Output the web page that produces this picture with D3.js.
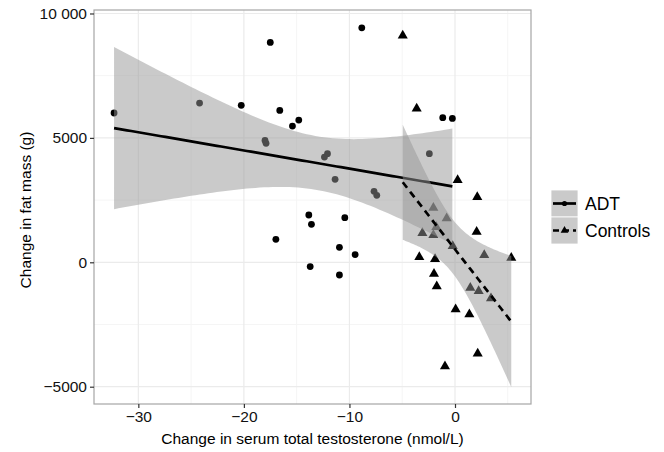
<!DOCTYPE html>
<html>
<head>
<meta charset="utf-8">
<script src="https://cdnjs.cloudflare.com/ajax/libs/d3/7.8.5/d3.min.js"></script>
<style>
  body { margin: 0; background: #fff; }
  text { font-family: "Liberation Sans", Arial, sans-serif; }
</style>
</head>
<body>
<div class="chart"></div>
<script>
// Data: change in testosterone (x) vs change in fat mass (y)
var adtX = [-32.3, -24.2, -20.25, -17.5, -8.83, -16.6, -14.8, -15.4, -18.0, -17.9, -12.37, -12.08, -11.36,
            -7.67, -7.41, -13.85, -13.6, -10.44, -16.97, -10.95, -9.46, -13.72, -10.95, -1.16, -0.25, -2.43];
var adtY = [6000, 6400, 6310, 8835, 9424, 6104, 5715, 5474, 4900, 4780, 4229, 4365, 3333,
            2851, 2690, 1900, 1526, 1795, 924, 602, 309, -173, -510, 5811, 5783, 4365];

var ctlX = [-4.95, -3.63, 0.25, 2.11, -2.05, -0.79, -3.09, -2.05, -1.77, 2.05, -3.38, -1.89,
            2.77, 5.33, -0.22, -1.99, -1.73, 1.45, 2.24, 3.41, 0.06, 1.36, 2.15, -0.95];
var ctlY = [9145, 6213, 3333, 2651, 2222, 1795, 1205, 1124, 1446, 1257, 241, 161,
            321, 213, 680, -430, -937, -990, -1124, -1419, -1861, -2062, -3641, -4150];

var groups = ["ADT", "Controls"];
var xTicks = [-30, -20, -10, 0];
var xMinor = [-25, -15, -5, 5];
var yTicks = [-5000, 0, 5000, 10000];
var yMinor = [-2500, 2500, 7500];

// Set up the chart
var svgWidth = 664;
var svgHeight = 452;
var panel = { left: 94, top: 10, right: 531, bottom: 404 };

var svg = d3.select(".chart")
    .append("svg")
    .attr("width", svgWidth)
    .attr("height", svgHeight);

var x = d3.scaleLinear().domain([-34.2, 7.2]).range([panel.left, panel.right]);
var y = d3.scaleLinear().domain([-5695, 10140]).range([panel.bottom, panel.top]);

// linear fit with 95% confidence band, like geom_smooth(method = "lm")
function fitLm(xs, ys, t) {
  var n = xs.length;
  var mx = d3.mean(xs), my = d3.mean(ys);
  var sxx = d3.sum(xs, d => (d - mx) * (d - mx));
  var sxy = d3.sum(xs, (d, i) => (d - mx) * (ys[i] - my));
  var b = sxy / sxx, a = my - b * mx;
  var rss = d3.sum(xs, (d, i) => Math.pow(ys[i] - (a + b * d), 2));
  var s = Math.sqrt(rss / (n - 2));
  var lo = d3.min(xs), hi = d3.max(xs);
  return d3.range(80).map(function(i) {
    var xv = lo + (hi - lo) * i / 79;
    var fit = a + b * xv;
    var se = s * Math.sqrt(1 / n + (xv - mx) * (xv - mx) / sxx);
    return { x: xv, fit: fit, lo: fit - t * se, hi: fit + t * se };
  });
}

var adtFit = fitLm(adtX, adtY, 2.064);
var ctlFit = fitLm(ctlX, ctlY, 2.074);

// grid
var grid = svg.append("g");
grid.selectAll(".xminor").data(xMinor).enter().append("line")
  .attr("x1", d => x(d)).attr("x2", d => x(d))
  .attr("y1", panel.top).attr("y2", panel.bottom)
  .attr("stroke", "#f5f5f5").attr("stroke-width", 1);
grid.selectAll(".yminor").data(yMinor).enter().append("line")
  .attr("y1", d => y(d)).attr("y2", d => y(d))
  .attr("x1", panel.left).attr("x2", panel.right)
  .attr("stroke", "#f5f5f5").attr("stroke-width", 1);
grid.selectAll(".xmajor").data(xTicks).enter().append("line")
  .attr("x1", d => x(d)).attr("x2", d => x(d))
  .attr("y1", panel.top).attr("y2", panel.bottom)
  .attr("stroke", "#ebebeb").attr("stroke-width", 1.2);
grid.selectAll(".ymajor").data(yTicks).enter().append("line")
  .attr("y1", d => y(d)).attr("y2", d => y(d))
  .attr("x1", panel.left).attr("x2", panel.right)
  .attr("stroke", "#ebebeb").attr("stroke-width", 1.2);

// points first, the smooth layers sit on top of them
var triangle = d3.symbol().type(d3.symbolTriangle).size(44);

svg.append("g").selectAll("circle")
  .data(adtX.map((d, i) => [d, adtY[i]]))
  .enter().append("circle")
  .attr("cx", d => x(d[0]))
  .attr("cy", d => y(d[1]))
  .attr("r", 3.4)
  .attr("fill", "#000");

svg.append("g").selectAll("path")
  .data(ctlX.map((d, i) => [d, ctlY[i]]))
  .enter().append("path")
  .attr("d", triangle)
  .attr("transform", d => `translate(${x(d[0])},${y(d[1]) + 0.8})`)
  .attr("fill", "#000");

var band = d3.area().x(d => x(d.x)).y0(d => y(d.lo)).y1(d => y(d.hi));
var line = d3.line().x(d => x(d.x)).y(d => y(d.fit));

[[adtFit, null], [ctlFit, "7,5"]].forEach(function(g) {
  svg.append("path").attr("d", band(g[0]))
    .attr("fill", "#969696").attr("fill-opacity", 0.5);
  svg.append("path").attr("d", line(g[0]))
    .attr("fill", "none").attr("stroke", "#000").attr("stroke-width", 2.7)
    .attr("stroke-dasharray", g[1]);
});

// panel border
svg.append("rect")
  .attr("x", panel.left).attr("y", panel.top)
  .attr("width", panel.right - panel.left).attr("height", panel.bottom - panel.top)
  .attr("fill", "none").attr("stroke", "#a6a6a6").attr("stroke-width", 1.2);

// axes
var fmt = d => (d >= 10000 ? "10 000" : (d < 0 ? "\u2212" : "") + Math.abs(d));

var bottomAxis = d3.axisBottom(x).tickValues(xTicks).tickSize(4).tickPadding(3).tickFormat(fmt);
var leftAxis = d3.axisLeft(y).tickValues(yTicks).tickSize(4).tickPadding(3).tickFormat(fmt);

var gx = svg.append("g").attr("transform", `translate(0,${panel.bottom})`).call(bottomAxis);
var gy = svg.append("g").attr("transform", `translate(${panel.left},0)`).call(leftAxis);
[gx, gy].forEach(function(g) {
  g.select(".domain").remove();
  g.selectAll(".tick line").attr("stroke", "#333").attr("stroke-width", 1.2);
  g.selectAll(".tick text").attr("fill", "#111").style("font-size", "15.5px")
    .style("font-family", "'Liberation Sans', Arial, sans-serif");
});

// axis titles
svg.append("text")
  .attr("x", (panel.left + panel.right) / 2)
  .attr("y", 444)
  .attr("text-anchor", "middle")
  .style("font-size", "15.5px")
  .attr("fill", "#000")
  .text("Change in serum total testosterone (nmol/L)");

svg.append("text")
  .attr("transform", `translate(31,${(panel.top + panel.bottom) / 2 + 3}) rotate(-90)`)
  .attr("text-anchor", "middle")
  .style("font-size", "15.5px")
  .attr("fill", "#000")
  .text("Change in fat mass (g)");

// legend
var legend = svg.append("g").attr("transform", "translate(551,190)");
groups.forEach(function(name, i) {
  var row = legend.append("g").attr("transform", `translate(0,${i * 27})`);
  row.append("rect").attr("width", 27).attr("height", 27)
    .attr("fill", "#969696").attr("fill-opacity", 0.5)
    .attr("stroke", "#fff").attr("stroke-width", 0.8);
  row.append("line").attr("x1", 2).attr("x2", 25).attr("y1", 13.5).attr("y2", 13.5)
    .attr("stroke", "#000").attr("stroke-width", 2.7)
    .attr("stroke-dasharray", i ? "6,4" : null);
  if (i === 0) {
    row.append("circle").attr("cx", 13.5).attr("cy", 13.5).attr("r", 2.6).attr("fill", "#000");
  } else {
    row.append("path").attr("d", d3.symbol().type(d3.symbolTriangle).size(26))
      .attr("transform", "translate(13.5,13.5)").attr("fill", "#000");
  }
  row.append("text").attr("x", 34).attr("y", 13.5).attr("dy", "0.36em")
    .style("font-size", "17.5px").attr("fill", "#000").text(name);
});
</script>
</body>
</html>
